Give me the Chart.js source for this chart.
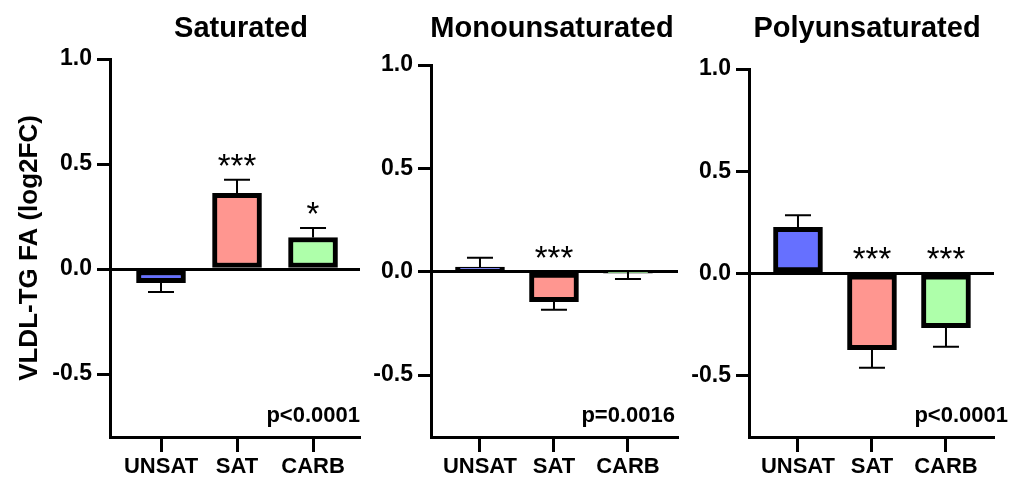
<!DOCTYPE html>
<html>
<head>
<meta charset="utf-8">
<script src="https://cdn.jsdelivr.net/npm/chart.js@4"></script>
<style>
  html, body { margin: 0; padding: 0; background: #fff; }
  #wrap { position: relative; width: 1013px; height: 479px; overflow: hidden; }
  canvas { position: absolute; top: 0; }
</style>
</head>
<body>
<div id="wrap">
  <canvas id="sat" width="364" height="479" style="left:0px"></canvas>
  <canvas id="mono" width="322" height="479" style="left:364px"></canvas>
  <canvas id="poly" width="327" height="479" style="left:686px"></canvas>
</div>
<script>
// ---- data ----
const groups = ['UNSAT', 'SAT', 'CARB'];
const barColors = ['#6670ff', '#ff9690', '#aeffaa'];
const yTicks = [-0.5, 0, 0.5, 1.0];

const satMeans = [-0.065, 0.36, 0.15];
const satSem = [0.045, 0.065, 0.045];
const satStars = ['', '***', '*'];

const monoMeans = [0.022, -0.145, -0.002];
const monoSem = [0.045, 0.039, 0.033];
const monoStars = ['', '***', ''];

const polyMeans = [0.225, -0.373, -0.265];
const polySem = [0.06, 0.088, 0.093];
const polyStars = ['', '***', '***'];

const FONT = '"Liberation Sans", Arial, sans-serif';

// error bars, stars, panel title and p value
const annotate = {
  id: 'annotate',
  afterDatasetsDraw(chart, args, opts) {
    const ctx = chart.ctx;
    const y = chart.scales.y;
    const meta = chart.getDatasetMeta(0);
    ctx.save();
    meta.data.forEach((bar, i) => {
      const m = opts.means[i];
      const end = m + Math.sign(m) * opts.sem[i];
      const y0 = y.getPixelForValue(m);
      const y1 = y.getPixelForValue(end);
      ctx.strokeStyle = '#000';
      ctx.lineWidth = 2;
      ctx.beginPath();
      ctx.moveTo(bar.x, y0);
      ctx.lineTo(bar.x, y1);
      ctx.moveTo(bar.x - 13, y1);
      ctx.lineTo(bar.x + 13, y1);
      ctx.stroke();
      if (opts.stars[i]) {
        const top = Math.min(y0, y1, y.getPixelForValue(0));
        ctx.fillStyle = '#000';
        ctx.font = '33px ' + FONT;
        ctx.textAlign = 'center';
        ctx.textBaseline = 'alphabetic';
        ctx.fillText(opts.stars[i], bar.x, top - 3);
      }
    });
    ctx.fillStyle = '#000';
    ctx.textBaseline = 'alphabetic';
    ctx.font = 'bold 29px ' + FONT;
    ctx.textAlign = 'center';
    ctx.fillText(opts.title, opts.titleX, 37);
    ctx.font = 'bold 22px ' + FONT;
    ctx.textAlign = 'right';
    ctx.fillText(opts.pText, chart.chartArea.right + opts.pShift, 422);
    ctx.restore();
  }
};

function makePanel(id, p) {
  const canvas = document.getElementById(id);
  return new Chart(canvas, {
    type: 'bar',
    data: {
      datasets: [{
        data: p.means.map((v, i) => ({ x: i + 1, y: v })),
        backgroundColor: barColors,
        borderColor: '#000',
        borderWidth: 5,
        borderSkipped: false,
        barThickness: 49
      }]
    },
    options: {
      responsive: false,
      animation: false,
      layout: { padding: { top: p.top, right: canvas.width - p.right, bottom: 0, left: 0 } },
      plugins: {
        legend: { display: false },
        tooltip: { enabled: false },
        annotate: p
      },
      scales: {
        x: {
          type: 'linear',
          offset: false,
          bounds: 'data',
          min: p.xMin,
          max: p.xMax,
          afterBuildTicks: s => { s.ticks = [1, 2, 3].map(v => ({ value: v })); },
          afterFit: s => { s.height = 42; },
          ticks: {
            callback: v => groups[v - 1],
            color: '#000',
            font: { family: FONT, size: 22, weight: 'bold' },
            padding: 2,
            maxRotation: 0,
            autoSkip: false
          },
          grid: { offset: false, drawOnChartArea: false, tickLength: 15, tickWidth: 3, tickColor: '#000' },
          border: { display: true, color: '#000', width: 3 }
        },
        y: {
          z: 1,
          min: -0.8,
          max: 1.0,
          afterBuildTicks: s => { s.ticks = yTicks.map(v => ({ value: v })); },
          afterFit: s => { s.width = p.left; },
          ticks: {
            callback: v => v.toFixed(1),
            color: '#000',
            font: { family: FONT, size: 23, weight: 'bold' },
            padding: 5
          },
          grid: {
            color: c => (c.tick && c.tick.value === 0) ? '#000' : 'rgba(0,0,0,0)',
            lineWidth: 3,
            tickLength: 13,
            tickWidth: 3,
            tickColor: '#000'
          },
          border: { display: true, color: '#000', width: 3 },
          title: {
            display: !!p.yTitle,
            text: p.yTitle || '',
            color: '#000',
            font: { family: FONT, size: 26, weight: 'bold' },
            padding: { top: 14, bottom: 0 }
          }
        }
      }
    },
    plugins: [annotate]
  });
}

makePanel('sat', {
  means: satMeans, sem: satSem, stars: satStars,
  title: 'Saturated', titleX: 241, pText: 'p<0.0001', pShift: 0,
  yTitle: 'VLDL-TG FA (log2FC)',
  left: 110, right: 360, top: 59, xMin: 0.329, xMax: 3.618
});
makePanel('mono', {
  means: monoMeans, sem: monoSem, stars: monoStars,
  title: 'Monounsaturated', titleX: 552 - 364, pText: 'p=0.0016', pShift: -3,
  left: 431 - 364, right: 678 - 364, top: 65, xMin: 0.338, xMax: 3.676
});
makePanel('poly', {
  means: polyMeans, sem: polySem, stars: polyStars,
  title: 'Polyunsaturated', titleX: 867 - 686, pText: 'p<0.0001', pShift: 14,
  left: 749 - 686, right: 994 - 686, top: 69, xMin: 0.338, xMax: 3.649
});
</script>
</body>
</html>
